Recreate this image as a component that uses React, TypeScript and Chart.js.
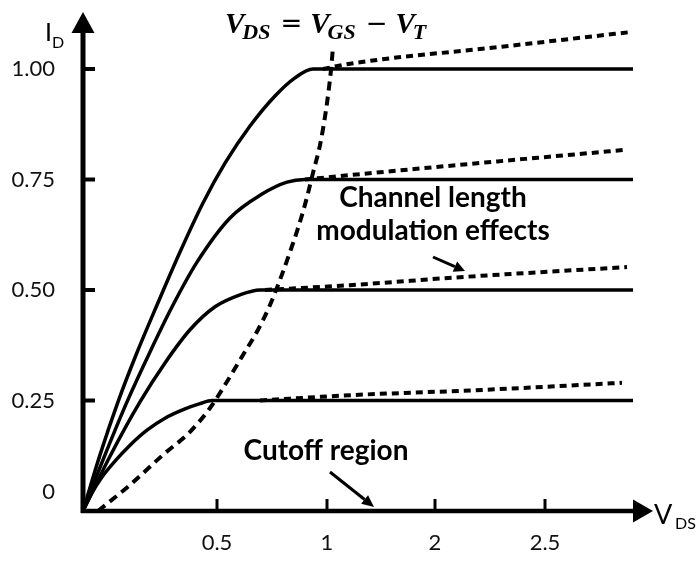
import React, { useEffect, useRef } from 'react';
import { Chart, registerables } from 'chart.js';

Chart.register(...registerables);

// ---------- data ----------
const xTickValues = [0.67, 1.22, 1.76, 2.31];
const xTickLabels = ['0.5', '1', '2', '2.5'];
const yTickValues = [0.044, 0.25, 0.5, 0.75, 1.0];
const yTickLabels = ['0', '0.25', '0.50', '0.75', '1.00'];
const yTickMarkValues = [0.25, 0.5, 0.75, 1.0];

// solid I-V curves (triode region + saturation plateau)
const curve100 = [[0, 0], [0.085, 0.127], [0.175, 0.247], [0.265, 0.353], [0.37, 0.466], [0.485, 0.586], [0.6, 0.697], [0.71, 0.787], [0.835, 0.871], [0.96, 0.939], [1.06, 0.98], [1.15, 1.0], [2.75, 1.0]];
const curve075 = [[0, 0], [0.11, 0.127], [0.22, 0.247], [0.335, 0.36], [0.45, 0.466], [0.57, 0.563], [0.735, 0.663], [0.895, 0.717], [1.02, 0.744], [1.11, 0.75], [2.75, 0.75]];
const curve050 = [[0, 0], [0.135, 0.124], [0.285, 0.247], [0.41, 0.335], [0.535, 0.41], [0.66, 0.462], [0.785, 0.489], [0.885, 0.5], [2.75, 0.5]];
const curve025 = [[0, 0], [0.045, 0.041], [0.095, 0.077], [0.16, 0.113], [0.235, 0.149], [0.32, 0.183], [0.41, 0.21], [0.51, 0.231], [0.585, 0.243], [0.645, 0.25], [2.75, 0.25]];

// channel length modulation (dashed)
const clm100 = [[1.2, 1.0], [1.335, 1.012], [2.085, 1.05], [2.745, 1.084]];
const clm075 = [[1.11, 0.75], [1.335, 0.76], [2.0, 0.788], [2.71, 0.817]];
const clm050 = [[0.91, 0.5], [1.335, 0.511], [1.885, 0.529], [2.72, 0.552]];
const clm025 = [[0.885, 0.25], [1.335, 0.262], [2.0, 0.274], [2.695, 0.29]];

// saturation boundary V_DS = V_GS - V_T (dashed)
const satBoundary = [[0.075, 0], [0.235, 0.059], [0.4, 0.127], [0.535, 0.179], [0.635, 0.233], [0.7, 0.278], [0.8, 0.353], [0.875, 0.41], [0.935, 0.466], [0.985, 0.523], [1.035, 0.586], [1.08, 0.647], [1.12, 0.71], [1.15, 0.765], [1.185, 0.828], [1.215, 0.907], [1.24, 0.998], [1.25, 1.05]];

const X_MAX = 2.85;
const Y_MAX = 1.129;

const toPts = (arr: number[][]) => arr.map(([x, y]) => ({ x, y }));

function solid(d: number[][]) {
  return {
    data: toPts(d),
    borderColor: '#000',
    borderWidth: 3.5,
    pointRadius: 0,
    cubicInterpolationMode: 'monotone',
    fill: false,
    clip: false,
  };
}
function dashed(d: number[][], dash: number[]) {
  return {
    data: toPts(d),
    borderColor: '#000',
    borderWidth: 4,
    borderDash: dash,
    pointRadius: 0,
    cubicInterpolationMode: 'monotone',
    fill: false,
    clip: false,
  };
}

function arrowLine(ctx: CanvasRenderingContext2D, x1: number, y1: number, x2: number, y2: number, head: number, hw: number, lw: number) {
  const ang = Math.atan2(y2 - y1, x2 - x1);
  const bx = x2 - head * Math.cos(ang);
  const by = y2 - head * Math.sin(ang);
  ctx.lineWidth = lw;
  ctx.beginPath();
  ctx.moveTo(x1, y1);
  ctx.lineTo(bx, by);
  ctx.stroke();
  ctx.beginPath();
  ctx.moveTo(x2, y2);
  ctx.lineTo(bx + hw * Math.sin(ang), by - hw * Math.cos(ang));
  ctx.lineTo(bx - hw * Math.sin(ang), by + hw * Math.cos(ang));
  ctx.closePath();
  ctx.fill();
}

const overlay = {
  id: 'overlay',
  beforeDatasetsDraw(chart: any) {
    const { ctx, chartArea: a, scales } = chart;
    const xs = scales.x;
    const ys = scales.y;
    const x0 = xs.getPixelForValue(0);
    const y0 = ys.getPixelForValue(0);
    ctx.save();
    ctx.strokeStyle = '#000';
    ctx.fillStyle = '#000';
    // y axis
    ctx.lineWidth = 5;
    ctx.beginPath();
    ctx.moveTo(x0, y0 + 2);
    ctx.lineTo(x0, a.top + 18);
    ctx.stroke();
    ctx.beginPath();
    ctx.moveTo(x0, a.top);
    ctx.lineTo(x0 - 11.5, a.top + 21);
    ctx.lineTo(x0 + 11.5, a.top + 21);
    ctx.closePath();
    ctx.fill();
    // x axis
    ctx.lineWidth = 4.5;
    ctx.beginPath();
    ctx.moveTo(x0 - 2, y0);
    ctx.lineTo(a.right - 18, y0);
    ctx.stroke();
    ctx.beginPath();
    ctx.moveTo(a.right, y0);
    ctx.lineTo(a.right - 20, y0 - 11.5);
    ctx.lineTo(a.right - 20, y0 + 11.5);
    ctx.closePath();
    ctx.fill();
    // tick marks (inward)
    ctx.lineWidth = 4;
    yTickMarkValues.forEach((v) => {
      const py = ys.getPixelForValue(v);
      ctx.beginPath();
      ctx.moveTo(x0, py);
      ctx.lineTo(x0 + 12, py);
      ctx.stroke();
    });
    ctx.lineWidth = 3;
    xTickValues.forEach((v) => {
      const px = xs.getPixelForValue(v);
      ctx.beginPath();
      ctx.moveTo(px, y0);
      ctx.lineTo(px, y0 - 12);
      ctx.stroke();
    });
    ctx.restore();
  },
  afterDraw(chart: any) {
    const { ctx } = chart;
    ctx.save();
    ctx.fillStyle = '#000';
    ctx.strokeStyle = '#000';
    ctx.textBaseline = 'alphabetic';
    ctx.textAlign = 'left';

    // axis labels
    ctx.font = '25px Lato';
    ctx.fillText('I', 45, 41);
    ctx.font = '16px Lato';
    ctx.fillText('D', 52, 48);
    ctx.font = '27px Lato';
    ctx.fillText('V', 654, 524);
    ctx.font = '16px Lato';
    ctx.fillText('DS', 675, 529);

    // title: V_DS = V_GS - V_T
    const mainF = 'bold italic 29px "Liberation Serif"';
    const subF = 'bold italic 22px "Liberation Serif"';
    const opF = '26px "DejaVu Sans"';
    const base = 33;
    let x = 225;
    const vs = (sub: string) => {
      ctx.font = mainF;
      ctx.fillText('V', x, base);
      x += ctx.measureText('V').width - 2;
      ctx.font = subF;
      ctx.fillText(sub, x, base + 6);
      x += ctx.measureText(sub).width;
    };
    const op = (t: string) => {
      x += 10;
      ctx.font = opF;
      ctx.fillText(t, x, base - 1);
      x += ctx.measureText(t).width + 8;
    };
    vs('DS');
    op('=');
    vs('GS');
    op('\u2212');
    vs('T');

    // annotations
    ctx.font = 'bold 28px Lato';
    ctx.textAlign = 'center';
    ctx.fillText('Channel length', 433, 207);
    ctx.fillText('modulation effects', 433, 240);
    ctx.fillText('Cutoff region', 326, 460);

    arrowLine(ctx, 433, 257, 465, 271, 11, 5.5, 3);
    arrowLine(ctx, 330, 472, 374, 507, 12, 5.5, 3);
    ctx.restore();
  },
};

export default function App() {
  const ref = useRef<HTMLCanvasElement | null>(null);
  useEffect(() => {
    if (!ref.current) return;
    const chart = new Chart(ref.current, {
      type: 'line',
      data: {
        datasets: [
          solid(curve100),
          solid(curve075),
          solid(curve050),
          solid(curve025),
          dashed(clm100, [7, 5]),
          dashed(clm075, [7, 5]),
          dashed(clm050, [7, 5]),
          dashed(clm025, [7, 5]),
          dashed(satBoundary, [9, 6]),
        ] as any,
      },
      options: {
        animation: false,
        responsive: false,
        devicePixelRatio: 1,
        layout: { padding: { top: 12, right: 46, left: 0, bottom: 0 } },
        plugins: {
          legend: { display: false },
          tooltip: { enabled: false },
          title: { display: false },
        },
        elements: { point: { radius: 0 } },
        scales: {
          x: {
            type: 'linear',
            min: 0,
            max: X_MAX,
            grid: { display: false, drawTicks: false },
            border: { display: false },
            afterBuildTicks: (s: any) => {
              s.ticks = xTickValues.map((v) => ({ value: v }));
            },
            afterFit: (s: any) => {
              s.height = 52;
              s.paddingLeft = 0;
              s.paddingRight = 0;
            },
            ticks: {
              autoSkip: false,
              maxRotation: 0,
              padding: 19,
              color: '#111',
              font: { size: 22, family: 'Lato' },
              callback: (_v: any, i: number) => xTickLabels[i],
            },
          },
          y: {
            type: 'linear',
            min: 0,
            max: Y_MAX,
            grid: { display: false, drawTicks: false },
            border: { display: false },
            afterBuildTicks: (s: any) => {
              s.ticks = yTickValues.map((v) => ({ value: v }));
            },
            afterFit: (s: any) => {
              s.width = 83;
              s.paddingTop = 0;
              s.paddingBottom = 0;
            },
            ticks: {
              autoSkip: false,
              padding: 28,
              color: '#111',
              font: { size: 22, family: 'Lato' },
              callback: (_v: any, i: number) => yTickLabels[i],
            },
          },
        },
      } as any,
      plugins: [overlay],
    });
    return () => chart.destroy();
  }, []);
  return (
    <div style={{ position: 'fixed', left: 0, top: 0, width: 699, height: 563, background: '#fff' }}>
      <canvas ref={ref} width={699} height={563} style={{ display: 'block' }} />
    </div>
  );
}
